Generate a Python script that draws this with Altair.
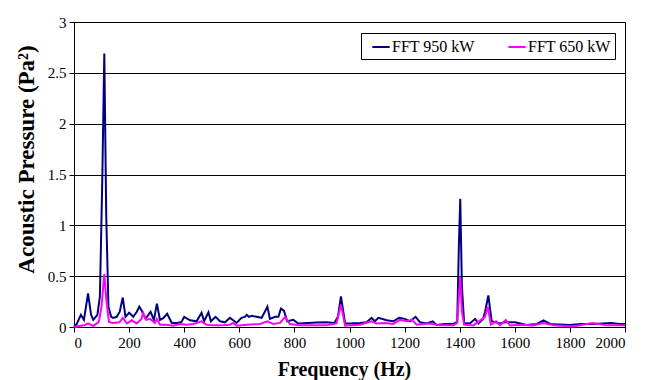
import altair as alt
import pandas as pd

freq_950 = [0, 10, 25, 36, 51, 62, 70, 85, 94, 103, 110, 117, 125, 135, 142, 155, 166, 177, 187, 200,
            215, 228, 237, 244, 260, 278, 290, 301, 312, 325, 338, 355, 375, 390, 400, 421, 445, 463, 472, 488,
            497, 514, 530, 548, 566, 578, 590, 608, 620, 627, 635, 645, 663, 681, 702, 711, 730, 742, 751, 762,
            774, 796, 814, 850, 880, 917, 945, 958, 969, 984, 1002, 1038, 1062, 1080, 1092, 1105, 1135, 1159, 1180, 1201,
            1220, 1240, 1256, 1280, 1302, 1316, 1345, 1377, 1391, 1397, 1402, 1408, 1416, 1437, 1456, 1468, 1485, 1492, 1504, 1516,
            1546, 1564, 1601, 1643, 1680, 1704, 1728, 1760, 1800, 1840, 1880, 1920, 1950, 1980, 2000]
pa_950 = [0.0, 0.03, 0.12, 0.07, 0.33, 0.12, 0.07, 0.12, 0.3, 1.5, 2.69, 1.1, 0.2, 0.1, 0.09, 0.1, 0.15, 0.29, 0.1, 0.14,
          0.1, 0.15, 0.2, 0.17, 0.08, 0.15, 0.07, 0.23, 0.07, 0.09, 0.13, 0.04, 0.04, 0.05, 0.1, 0.066, 0.056, 0.14, 0.056, 0.145,
          0.056, 0.1, 0.056, 0.046, 0.09, 0.066, 0.04, 0.09, 0.1, 0.12, 0.1, 0.11, 0.1, 0.09, 0.2, 0.08, 0.1, 0.1, 0.18, 0.16,
          0.056, 0.07, 0.035, 0.04, 0.045, 0.046, 0.04, 0.1, 0.3, 0.035, 0.035, 0.04, 0.046, 0.09, 0.056, 0.09, 0.066, 0.056, 0.09, 0.08,
          0.056, 0.1, 0.046, 0.035, 0.056, 0.02, 0.03, 0.03, 0.05, 0.8, 1.26, 0.4, 0.04, 0.035, 0.08, 0.035, 0.08, 0.15, 0.31, 0.056,
          0.035, 0.046, 0.046, 0.02, 0.03, 0.066, 0.03, 0.025, 0.02, 0.03, 0.03, 0.035, 0.04, 0.03, 0.03]

freq_650 = [0, 20, 40, 51, 70, 90, 100, 110, 118, 127, 142, 165, 177, 192, 210, 228, 245, 251, 262, 276,
            294, 301, 312, 336, 360, 385, 409, 433, 463, 481, 505, 530, 566, 578, 590, 627, 675, 702, 723, 748,
            766, 784, 820, 917, 953, 969, 984, 1002, 1038, 1080, 1098, 1129, 1159, 1183, 1207, 1226, 1244, 1292, 1328, 1377,
            1391, 1397, 1402, 1408, 1416, 1450, 1492, 1502, 1513, 1532, 1546, 1567, 1583, 1619, 1667, 1704, 1740, 1812, 1881, 1933,
            2000]
pa_650 = [0.0, 0.01, 0.02, 0.035, 0.01, 0.05, 0.2, 0.52, 0.25, 0.05, 0.04, 0.046, 0.09, 0.035, 0.066, 0.035, 0.08, 0.14, 0.07, 0.08,
          0.04, 0.08, 0.023, 0.023, 0.013, 0.03, 0.023, 0.03, 0.056, 0.023, 0.016, 0.016, 0.023, 0.04, 0.013, 0.023, 0.03, 0.056, 0.03, 0.04,
          0.1, 0.03, 0.016, 0.016, 0.035, 0.22, 0.013, 0.016, 0.023, 0.056, 0.035, 0.04, 0.03, 0.07, 0.056, 0.07, 0.023, 0.035, 0.016, 0.016,
          0.04, 0.3, 0.49, 0.15, 0.023, 0.016, 0.1, 0.2, 0.023, 0.056, 0.016, 0.07, 0.016, 0.023, 0.016, 0.04, 0.016, 0.005, 0.04, 0.016,
          0.016]

series_names = ["FFT 950 kW", "FFT 650 kW"]
series_colors = ["#000080", "#FF00FF"]

df = pd.concat([
    pd.DataFrame({"f": freq_950, "p": pa_950, "s": series_names[0], "o": 0}),
    pd.DataFrame({"f": freq_650, "p": pa_650, "s": series_names[1], "o": 1}),
])

font = "Liberation Serif"
common = dict(labelFont=font, labelFontSize=15, labelColor="black",
              titleFont=font, titleFontWeight="bold", titleColor="black",
              domainWidth=1, tickWidth=1, tickSize=5, tickColor="black", domainColor="black")

chart = alt.Chart(df).mark_line(strokeWidth=2, interpolate="linear").encode(
    x=alt.X("f:Q", scale=alt.Scale(domain=[0, 2000], nice=False),
            axis=alt.Axis(title="Frequency (Hz)", values=list(range(0, 2001, 200)), format="d", grid=False,
                          labelPadding=3, titleFontSize=20, titleX=270, titleY=48.5,
                          titleBaseline="alphabetic", titleAlign="center", **common)),
    y=alt.Y("p:Q", scale=alt.Scale(domain=[0, 3], nice=False),
            axis=alt.Axis(title="Acoustic Pressure (Pa²)", values=[0, 0.5, 1, 1.5, 2, 2.5, 3], format="~g",
                          grid=True, gridColor="black", gridOpacity=1, gridWidth=1, labelPadding=3,
                          titleFontSize=23, titleX=-41, titleY=137, titleAngle=-90,
                          titleBaseline="alphabetic", titleAlign="center", **common)),
    color=alt.Color("s:N", scale=alt.Scale(domain=series_names, range=series_colors),
                    legend=alt.Legend(title=None, orient="none", legendX=287, legendY=11, direction="horizontal",
                                      symbolType="stroke", symbolSize=300, symbolStrokeWidth=2,
                                      strokeColor="black", fillColor="white", padding=4,
                                      labelFontSize=16, labelFont=font, labelColor="black",
                                      columnPadding=26, labelOffset=1, symbolOffset=6)),
    order=alt.Order("o:Q"),
    detail="s:N",
).properties(
    width=551, height=305,
    padding={"left": 74, "top": 22, "right": 23, "bottom": 53},
    autosize=alt.AutoSizeParams(type="none"),
    background="white",
).configure_view(
    stroke="black", strokeWidth=1
)

chart.save("out.html", embed_options={"renderer": "svg", "actions": False})
